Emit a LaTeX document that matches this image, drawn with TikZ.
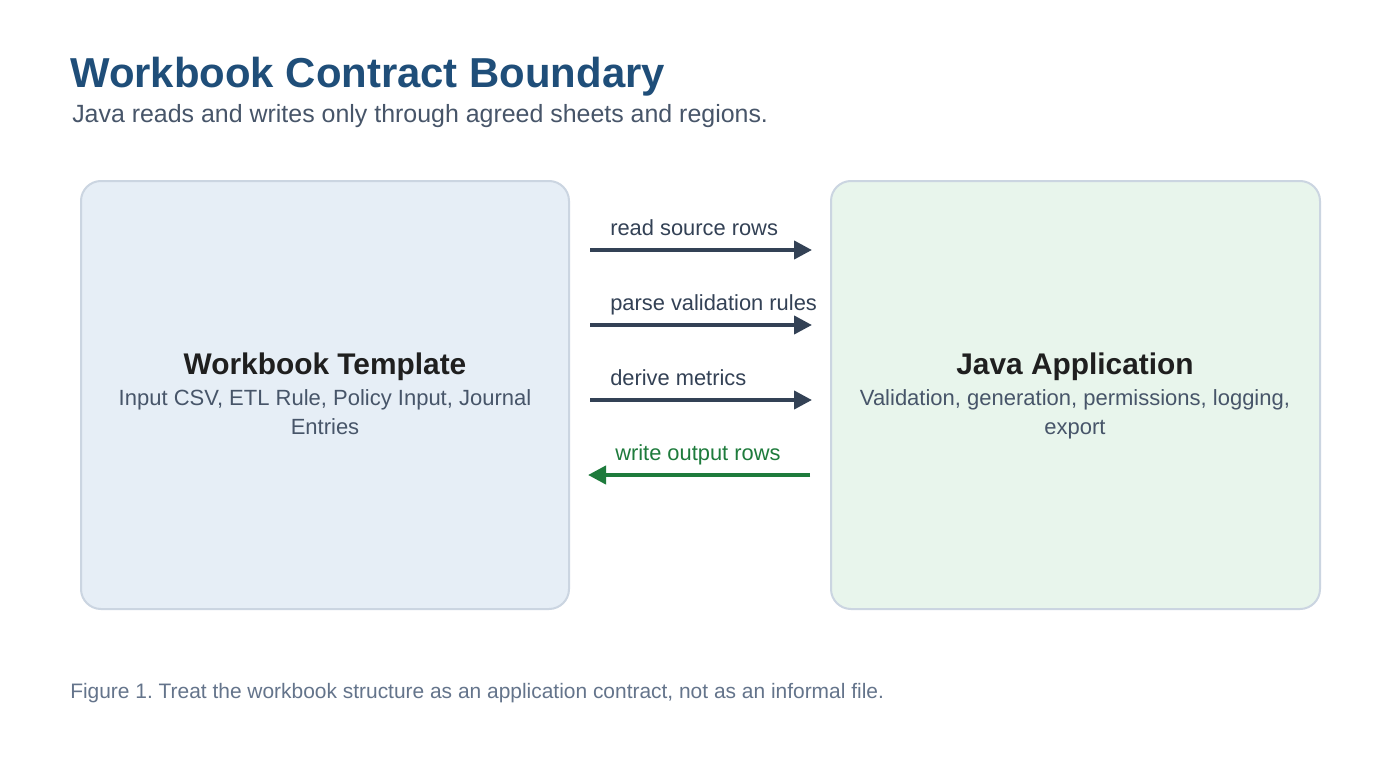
\documentclass[tikz,border=0pt]{standalone}
\usepackage{fontspec}
\setmainfont{Liberation Sans}
\usetikzlibrary{arrows.meta}
\definecolor{titleblue}{HTML}{1F4E79}
\definecolor{subgray}{HTML}{475569}
\definecolor{capgray}{HTML}{64748B}
\definecolor{arrowdark}{HTML}{334155}
\definecolor{arrowgreen}{HTML}{1E7B3C}
\definecolor{boxline}{HTML}{CBD5E1}
\definecolor{leftfill}{HTML}{E6EEF6}
\definecolor{rightfill}{HTML}{E8F5EC}
\definecolor{headdark}{HTML}{1F1F1F}
\frenchspacing
\tikzset{
  panel/.style={draw=boxline, line width=1.5pt, rounded corners=15pt},
  flow/.style={draw=arrowdark, line width=3pt, -{Triangle[length=13.5pt,width=13.5pt]}},
  backflow/.style={draw=arrowgreen, line width=3pt, -{Triangle[length=13.5pt,width=13.5pt]}},
  flowlabel/.style={anchor=base west, inner sep=0pt, font=\fontsize{16.4}{20}\selectfont, text=arrowdark},
  headtext/.style={anchor=base, inner sep=0pt, font=\fontsize{22.4}{27}\selectfont\bfseries, text=headdark},
  bodytext/.style={anchor=base, inner sep=0pt, font=\fontsize{16.5}{20}\selectfont, text=subgray},
}
\begin{document}
\begin{tikzpicture}[x=0.75pt, y=-0.75pt]
\useasboundingbox (0,0) rectangle (1400,760);
\fill[white] (0,0) rectangle (1400,760);
% title
\node[anchor=base west, inner sep=0pt, font=\fontsize{31.4}{38}\selectfont\bfseries, text=titleblue] (title) at (70,87) {Workbook Contract Boundary};
\node[anchor=base west, inner sep=0pt, font=\fontsize{18.7}{22}\selectfont, text=subgray] (subtitle) at (72,122) {Java reads and writes only through agreed sheets and regions.};
% panels
\path[panel, fill=leftfill] (81,181) rectangle (569,609);
\path[panel, fill=rightfill] (831,181) rectangle (1320,609);
\node[headtext] (lhead) at (325,374) {Workbook Template};
\node[bodytext] (lbody1) at (325,405) {Input CSV, ETL Rule, Policy Input, Journal};
\node[bodytext] (lbody2) at (325,434) {Entries};
\node[headtext] (rhead) at (1075,374) {Java Application};
\node[bodytext] (rbody1) at (1075,405) {Validation, generation, permissions, logging,};
\node[bodytext] (rbody2) at (1075,434) {export};
% arrows
\coordinate (a1s) at (590,250); \coordinate (a1e) at (812,250);
\coordinate (a2s) at (590,325); \coordinate (a2e) at (812,325);
\coordinate (a3s) at (590,400); \coordinate (a3e) at (812,400);
\coordinate (a4s) at (810,475); \coordinate (a4e) at (588,475);
\draw[flow] (a1s) -- (a1e);
\draw[flow] (a2s) -- (a2e);
\draw[flow] (a3s) -- (a3e);
\draw[backflow] (a4s) -- (a4e);
\node[flowlabel] (l1) at (610,235) {read source rows};
\node[flowlabel] (l2) at (610,310) {parse validation rules};
\node[flowlabel] (l3) at (610,385) {derive metrics};
\node[flowlabel, text=arrowgreen] (l4) at (615,460) {write output rows};
% caption
\node[anchor=base west, inner sep=0pt, font=\fontsize{15.7}{19}\selectfont, text=capgray] (caption) at (70,698) {Figure 1. Treat the workbook structure as an application contract, not as an informal file.};
\end{tikzpicture}
\end{document}
